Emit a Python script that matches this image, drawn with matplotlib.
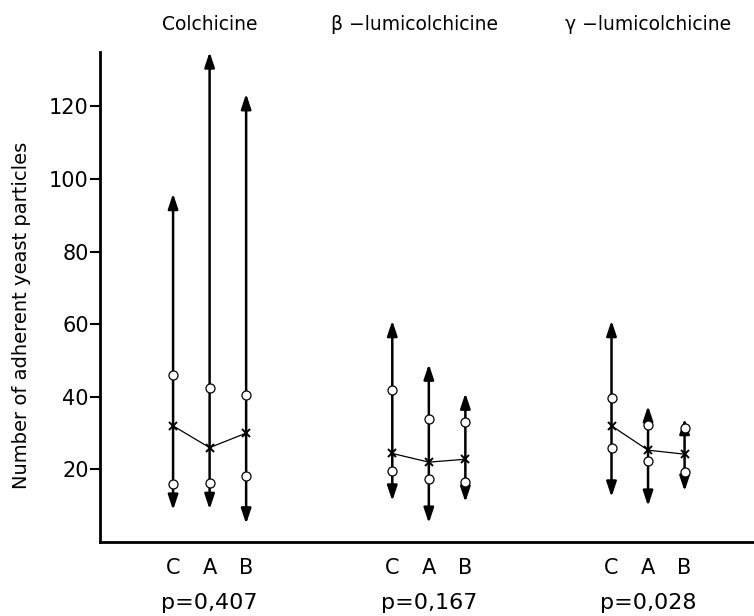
import matplotlib.pyplot as plt
import matplotlib.transforms as mtransforms
from matplotlib.patches import FancyArrowPatch

plt.rcParams['font.family'] = ['DejaVu Sans']

groups = ["Colchicine", "β −lumicolchicine", "γ −lumicolchicine"]
p_values = ["p=0,407", "p=0,167", "p=0,028"]
conditions = ["C", "A", "B"]

# per group, per condition (C, A, B)
range_max = [[96, 135, 123.5], [61, 49, 41], [61, 37.5, 34]]
range_min = [[8.8, 9, 5], [11.3, 5.2, 11], [12.4, 9.9, 14]]
upper_circ = [[46, 42.3, 40.4], [41.8, 33.8, 33], [39.8, 32.2, 31.3]]
lower_circ = [[16, 16.2, 18.1], [19.5, 17.4, 16.5], [26, 22.2, 19.2]]
means = [[32, 26, 30], [24.4, 22, 22.8], [32, 25.3, 24.2]]

fig = plt.figure(figsize=(7.54, 6.16), dpi=100)
ax = fig.add_axes([100 / 754, 74 / 616, 654 / 754, 490 / 616])

group_gap = 6
title_shift = [0, -0.4, 0]

for g in range(len(groups)):
    xs = [g * group_gap + i for i in range(len(conditions))]
    for i, x in enumerate(xs):
        arr = FancyArrowPatch((x, range_min[g][i]), (x, range_max[g][i]),
                              arrowstyle="<|-|>,head_length=0.9,head_width=0.3",
                              mutation_scale=10, lw=1.8, color="black",
                              shrinkA=0, shrinkB=0, zorder=2)
        ax.add_patch(arr)
    ax.plot(xs, means[g], color="black", lw=0.9, marker="x", ms=6,
            mew=1.4, zorder=3)
    ax.plot(xs, upper_circ[g], ls="none", marker="o", ms=6.5,
            mfc="white", mec="black", mew=0.9, zorder=4)
    ax.plot(xs, lower_circ[g], ls="none", marker="o", ms=6.5,
            mfc="white", mec="black", mew=0.9, zorder=4)

    trans = mtransforms.blended_transform_factory(ax.transData, fig.transFigure)
    for i, x in enumerate(xs):
        ax.text(x, 1 - 568 / 616, conditions[i], transform=trans,
                ha="center", va="center", fontsize=15)
    ax.text(xs[1], 1 - 603 / 616, p_values[g], transform=trans,
            ha="center", va="center", fontsize=16)
    ax.text(xs[1] + title_shift[g], 1 - 25 / 616, groups[g], transform=trans,
            ha="center", va="center", fontsize=13.5)

ax.set_xlim(-2.0, 15.9)
ax.set_ylim(0, 135)
ax.set_yticks([20, 40, 60, 80, 100, 120])
ax.set_xticks([])
ax.tick_params(axis="y", direction="out", length=7, width=1.5,
               labelsize=15, pad=1)
for s in ["top", "right"]:
    ax.spines[s].set_visible(False)
ax.spines["left"].set_linewidth(2)
ax.spines["bottom"].set_linewidth(2)

fig.text(22 / 754, 1 - 315 / 616, "Number of adherent yeast particles",
         rotation=90, ha="center", va="center", fontsize=14)

fig.savefig("out.png", dpi=100)
